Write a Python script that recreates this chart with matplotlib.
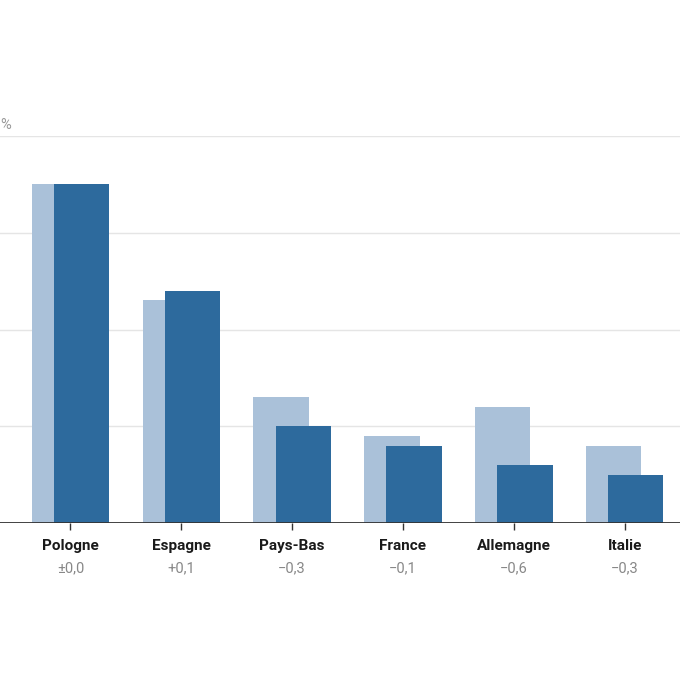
import matplotlib
matplotlib.use("Agg")
import matplotlib.pyplot as plt
import numpy as np

countries = ["Pologne", "Espagne", "Pays-Bas", "France", "Allemagne", "Italie"]
values_prev = [3.5, 2.3, 1.3, 0.9, 1.2, 0.8]
values_curr = [3.5, 2.4, 1.0, 0.8, 0.6, 0.5]
diff_labels = ["±0,0", "+0,1", "−0,3", "−0,1", "−0,6", "−0,3"]
y_ticks = [0, 1, 2, 3, 4]
unit_label = "%"

LIGHT = "#aac1d9"
DARK = "#2d6a9d"

plt.rcParams['font.family'] = ['Roboto', 'DejaVu Sans']

W = H = 688
fig = plt.figure(figsize=(W / 100, H / 100), dpi=100)
fig.patch.set_facecolor("white")

ax_left, ax_right = 0, 680
ax_bottom, ax_top = 523, 136
ax = fig.add_axes([ax_left / W, (H - ax_bottom) / H,
                   (ax_right - ax_left) / W, (ax_bottom - ax_top) / H])

x = np.arange(len(countries))
bw = 0.5
off = 0.1
ax.bar(x - off, values_prev, width=bw, color=LIGHT, zorder=2, linewidth=0)
ax.bar(x + off, values_curr, width=bw, color=DARK, zorder=3, linewidth=0)

for t in y_ticks[1:]:
    ax.axhline(t, color="#e5e5e5", linewidth=1, zorder=1)
ax.axhline(0, color="#333333", linewidth=1.3, zorder=4)

ax.set_xlim(-0.636, 5.5)
ax.set_ylim(0, 4)
for s in ax.spines.values():
    s.set_visible(False)
ax.set_yticks([])
ax.set_xticks(x)
ax.tick_params(axis="x", length=5, width=1, color="#333333", direction="out", pad=0)
ax.set_xticklabels([""] * len(countries))

for i, (c, d) in enumerate(zip(countries, diff_labels)):
    ax.annotate(c, (i, 0), xytext=(0, -23), textcoords="offset pixels",
                ha="center", va="center", fontsize=11, fontweight="bold",
                color="#1a1a1a", annotation_clip=False)
    ax.annotate(d, (i, 0), xytext=(0, -45), textcoords="offset pixels",
                ha="center", va="center", fontsize=10.5,
                color="#888888", annotation_clip=False)

fig.text(0.5 / W, 1 - 125 / H, unit_label, ha="left", va="center",
         fontsize=10.5, color="#999999")

fig.savefig("out.png", dpi=100, facecolor="white")
